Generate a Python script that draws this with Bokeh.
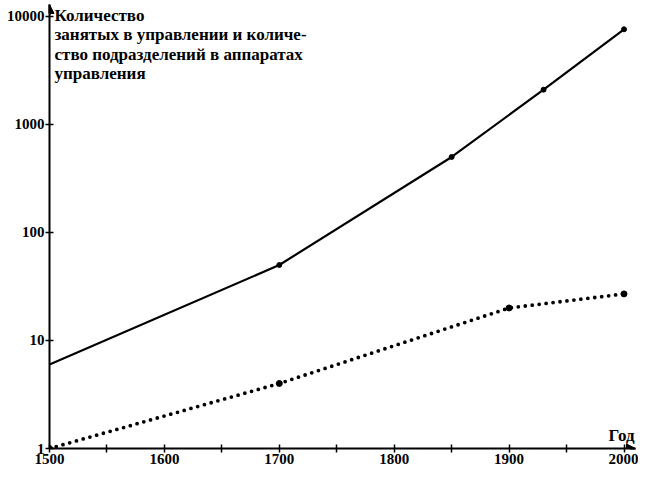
from bokeh.plotting import figure
from bokeh.models import Range1d, FixedTicker, Arrow, NormalHead, Label
from bokeh.embed import file_html
from bokeh.resources import INLINE

# Data
staff_years = [1500, 1700, 1850, 1930, 2000]
staff_values = [6, 50, 500, 2100, 7600]
unit_years = [1500, 1700, 1900, 2000]
unit_values = [1, 4, 20, 27]

x_ticks = [1500, 1550, 1600, 1650, 1700, 1750, 1800, 1850, 1900, 1950, 2000]
x_labels = {1500: "1500", 1600: "1600", 1700: "1700", 1800: "1800", 1900: "1900", 2000: "2000"}
y_ticks = [1, 10, 100, 1000, 10000]
y_labels = {1: "1", 10: "10", 100: "100", 1000: "1000", 10000: "10000"}
title_lines = [
    "Количество",
    "занятых в управлении и количе-",
    "ство подразделений в аппаратах",
    "управления",
]
x_title = "Год"

FONT = "Times New Roman"
X_END = 2010
Y_TOP = 12900

p = figure(width=638, height=472, y_axis_type="log",
           x_range=Range1d(1500, X_END), y_range=Range1d(1, Y_TOP),
           output_backend="svg", toolbar_location=None,
           min_border_left=49, min_border_right=3, min_border_top=4, min_border_bottom=24)
p.outline_line_color = None
p.xgrid.visible = False
p.ygrid.visible = False
p.background_fill_color = "white"

for ax in (p.xaxis[0], p.yaxis[0]):
    ax.axis_line_color = "black"
    ax.axis_line_width = 2
    ax.major_tick_line_color = "black"
    ax.major_tick_line_width = 1.5
    ax.major_tick_in = 4
    ax.major_tick_out = 4
    ax.minor_tick_line_color = None
    ax.major_label_text_font = FONT
    ax.major_label_text_font_style = "bold"
    ax.major_label_text_font_size = "15px"
    ax.major_label_text_color = "black"
    ax.major_label_standoff = 1

p.xaxis.ticker = FixedTicker(ticks=x_ticks)
p.xaxis.major_label_overrides = {t: x_labels.get(t, "") for t in x_ticks}
p.yaxis.ticker = FixedTicker(ticks=y_ticks)
p.yaxis.major_label_overrides = y_labels

# series
p.line(staff_years, staff_values, line_color="black", line_width=2.2)
p.scatter(staff_years[1:], staff_values[1:], size=5, color="black")
p.line(unit_years, unit_values, line_color="black", line_width=3.8,
       line_dash="0 7", line_cap="round")
p.scatter(unit_years, unit_values, size=6, color="black")

# axis arrows
p.add_layout(Arrow(end=NormalHead(size=9, fill_color="black", line_color="black"),
                   x_start=1500, y_start=Y_TOP * 0.8, x_end=1500, y_end=Y_TOP,
                   line_color="black", line_width=2))
p.add_layout(Arrow(end=NormalHead(size=9, fill_color="black", line_color="black"),
                   x_start=X_END - 5, y_start=1, x_end=X_END, y_end=1,
                   line_color="black", line_width=2))

# y axis title
for i, line in enumerate(title_lines):
    p.add_layout(Label(x=1500, y=10000, x_offset=5, y_offset=1 - 19.5 * i, text=line,
                       text_font=FONT, text_font_style="bold", text_font_size="17px",
                       text_baseline="middle", text_align="left", text_color="black"))

p.add_layout(Label(x=X_END, y=1, x_offset=-1, y_offset=4, text=x_title,
                   text_font=FONT, text_font_style="bold", text_font_size="17px",
                   text_baseline="bottom", text_align="right", text_color="black"))

open("out.html", "w").write(file_html(p, INLINE))
